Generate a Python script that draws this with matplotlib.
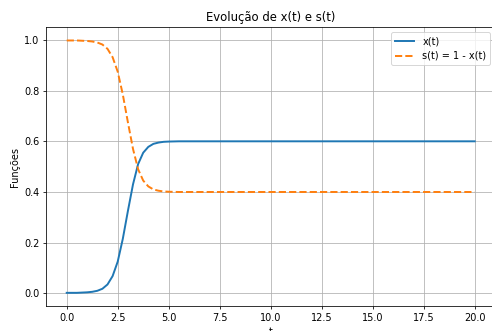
import matplotlib
matplotlib.use("Agg")
import matplotlib.pyplot as plt
import numpy as np

# values
t = [0.0, 0.25, 0.5, 0.75, 1.0, 1.25, 1.5, 1.75, 2.0, 2.25, 2.5, 2.75,
     3.0, 3.25, 3.5, 3.75, 4.0, 4.25, 4.5, 4.75, 5.0, 5.5, 6.0, 20.0]
x = [0.002, 0.002, 0.002, 0.003, 0.004, 0.006, 0.010, 0.018, 0.035, 0.068,
     0.125, 0.215, 0.325, 0.430, 0.510, 0.555, 0.578, 0.590, 0.595, 0.598,
     0.599, 0.600, 0.600, 0.600]
s = [1 - v for v in x]  # s(t) = 1 - x(t)

fig = plt.figure(figsize=(492 / 70, 331 / 70), dpi=70)
ax = fig.add_axes([46.3 / 492, 25 / 331, 448.8 / 492, 278.7 / 331])

ax.plot(t, x, label="x(t)", linewidth=2)
ax.plot(t, s, "--", label="s(t) = 1 - x(t)", linewidth=2)
ax.set_title("Evolução de x(t) e s(t)")
ax.set_xlabel("t")
ax.set_ylabel("Funções")
ax.set_xlim(-1, 21)
ax.set_ylim(-0.05, 1.05)
ax.legend(loc="upper right")
ax.grid(True)

fig.savefig("out.png", dpi=70)
